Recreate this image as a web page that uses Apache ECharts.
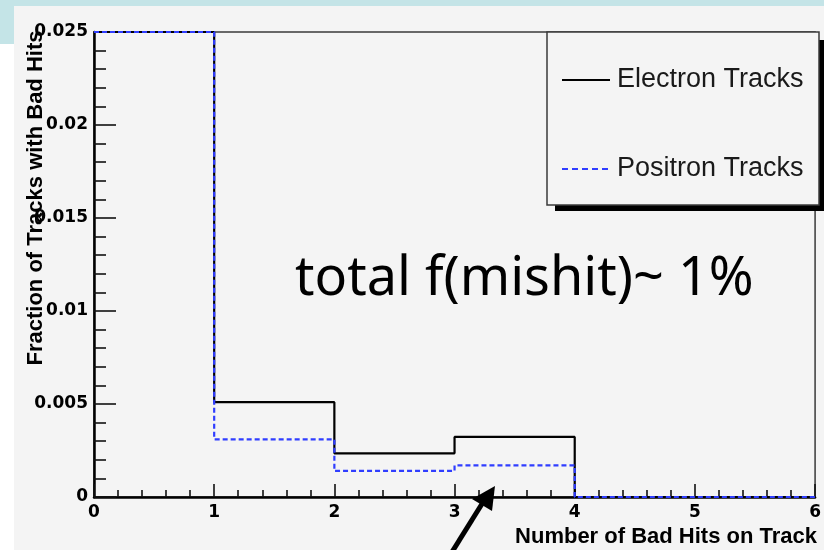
<!DOCTYPE html>
<html>
<head>
<meta charset="utf-8">
<script src="https://cdn.jsdelivr.net/npm/echarts@6/dist/echarts.min.js"></script>
<style>
html,body{margin:0;padding:0;background:#ffffff;}
#chart{width:824px;height:550px;}
</style>
</head>
<body>
<div id="chart"></div>
<script>
// ---- data ----
const binEdges = [0, 1, 2, 3, 4, 5, 6];
// first bin runs off the top of the frame; plotted at the frame maximum
const electronTracks = [0.025, 0.0051, 0.00235, 0.00323, 0, 0];
const positronTracks = [0.025, 0.0031, 0.0014, 0.0017, 0, 0];
const yTickLabels = ['0', '0.005', '0.01', '0.015', '0.02', '0.025'];
const xTickLabels = ['0', '1', '2', '3', '4', '5', '6'];
const seriesNames = ['Electron Tracks', 'Positron Tracks'];
const annotation = 'total f(mishit)~ 1%';
const xTitle = 'Number of Bad Hits on Track';
const yTitle = 'Fraction of Tracks with Bad Hits';

function histPoints(vals) {
  const pts = vals.map((v, i) => [binEdges[i], v]);
  pts.push([binEdges[binEdges.length - 1], vals[vals.length - 1]]);
  return pts;
}

const chart = echarts.init(document.getElementById('chart'), null, {renderer: 'canvas'});
const labelFont = {fontFamily: 'DejaVu Sans', fontWeight: 'bold', fontSize: 17, color: '#000'};
const solidIcon = 'path://M0,0h48v2h-48z';
const dashIcon = 'path://M0,0h6v2h-6z M10,0h6v2h-6z M20,0h6v2h-6z M30,0h6v2h-6z M40,0h6v2h-6z M48,0h0v2h0z';

chart.setOption({
  backgroundColor: '#f4f4f4',
  animation: false,
  grid: {left: 94, right: 4, top: 32, bottom: 53, show: true, borderColor: '#3a3a3a', borderWidth: 1.5, backgroundColor: 'transparent'},
  xAxis: {
    type: 'value', min: 0, max: 6, interval: 1,
    axisLine: {show: true, onZero: false, lineStyle: {color: '#000', width: 2.5}},
    axisTick: {show: true, inside: true, length: 13, lineStyle: {color: '#111', width: 1.6}},
    minorTick: {show: true, splitNumber: 5, length: 7, lineStyle: {color: '#111', width: 1.6}},
    splitLine: {show: false},
    axisLabel: Object.assign({margin: 7, formatter: v => xTickLabels[Math.round(v)]}, labelFont)
  },
  yAxis: {
    type: 'value', min: 0, max: 0.025, interval: 0.005,
    axisLine: {show: true, onZero: false, lineStyle: {color: '#000', width: 2.5}},
    axisTick: {show: true, inside: true, length: 22, lineStyle: {color: '#111', width: 1.6}},
    minorTick: {show: true, splitNumber: 5, length: 12, lineStyle: {color: '#111', width: 1.6}},
    splitLine: {show: false},
    axisLabel: Object.assign({margin: 6, padding: [6, 0, 0, 0], formatter: v => yTickLabels[Math.round(v / 0.005)]}, labelFont)
  },
  legend: {
    orient: 'vertical', left: 557, top: 60, z: 20,
    itemWidth: 48, itemHeight: 2, itemGap: 59, selectedMode: false,
    textStyle: {fontFamily: 'Liberation Sans', fontSize: 27, color: '#1a1a1a', lineHeight: 30, padding: [0, 0, 0, 2]},
    data: [
      {name: seriesNames[0], icon: solidIcon, itemStyle: {color: '#000', borderWidth: 0}},
      {name: seriesNames[1], icon: dashIcon, itemStyle: {color: '#2f3dff', borderWidth: 0}}
    ]
  },
  series: [
    {
      name: seriesNames[0], type: 'line', step: 'end', symbol: 'none', clip: true, z: 5,
      data: histPoints(electronTracks),
      lineStyle: {color: '#000', width: 2.2},
      itemStyle: {color: '#000'}
    },
    {
      name: seriesNames[1], type: 'line', step: 'end', symbol: 'none', clip: true, z: 6,
      data: histPoints(positronTracks),
      lineStyle: {color: '#2f3dff', width: 2.2, type: [5, 3]},
      itemStyle: {color: '#2f3dff'}
    }
  ],
  graphic: [
    {type: 'rect', z: 0, silent: true, shape: {x: 0, y: 0, width: 824, height: 6}, style: {fill: '#c4e4e7'}},
    {type: 'rect', z: 0, silent: true, shape: {x: 0, y: 0, width: 14, height: 44}, style: {fill: '#c4e4e7'}},
    {type: 'rect', z: 0, silent: true, shape: {x: 0, y: 44, width: 14, height: 506}, style: {fill: '#ffffff'}},
    // legend box with shadow
    {type: 'rect', z: 10, silent: true, shape: {x: 555, y: 40, width: 269, height: 171}, style: {fill: '#000'}},
    {type: 'rect', z: 11, silent: true, shape: {x: 547, y: 32, width: 272, height: 173}, style: {fill: '#f4f4f4', stroke: '#3a3a3a', lineWidth: 1.5}},
    // axis titles
    {type: 'text', z: 15, silent: true, x: 36, y: 198, rotation: Math.PI / 2,
      style: {text: yTitle, font: 'bold 22px "Liberation Sans"', fill: '#000', align: 'center', verticalAlign: 'middle'}},
    {type: 'text', z: 15, silent: true, x: 817, y: 537,
      style: {text: xTitle, font: 'bold 22px "Liberation Sans"', fill: '#000', align: 'right', verticalAlign: 'middle'}},
    // annotation
    {type: 'text', z: 15, silent: true, x: 295, y: 280,
      style: {text: annotation, font: '54px "Noto Sans"', fill: '#000', align: 'left', verticalAlign: 'middle'}},
    // arrow
    {type: 'line', z: 15, silent: true, shape: {x1: 452, y1: 552, x2: 485, y2: 499}, style: {stroke: '#000', lineWidth: 5}},
    {type: 'polygon', z: 15, silent: true, shape: {points: [[495, 486], [472, 499], [492, 511]]}, style: {fill: '#000'}}
  ]
});
</script>
</body>
</html>
